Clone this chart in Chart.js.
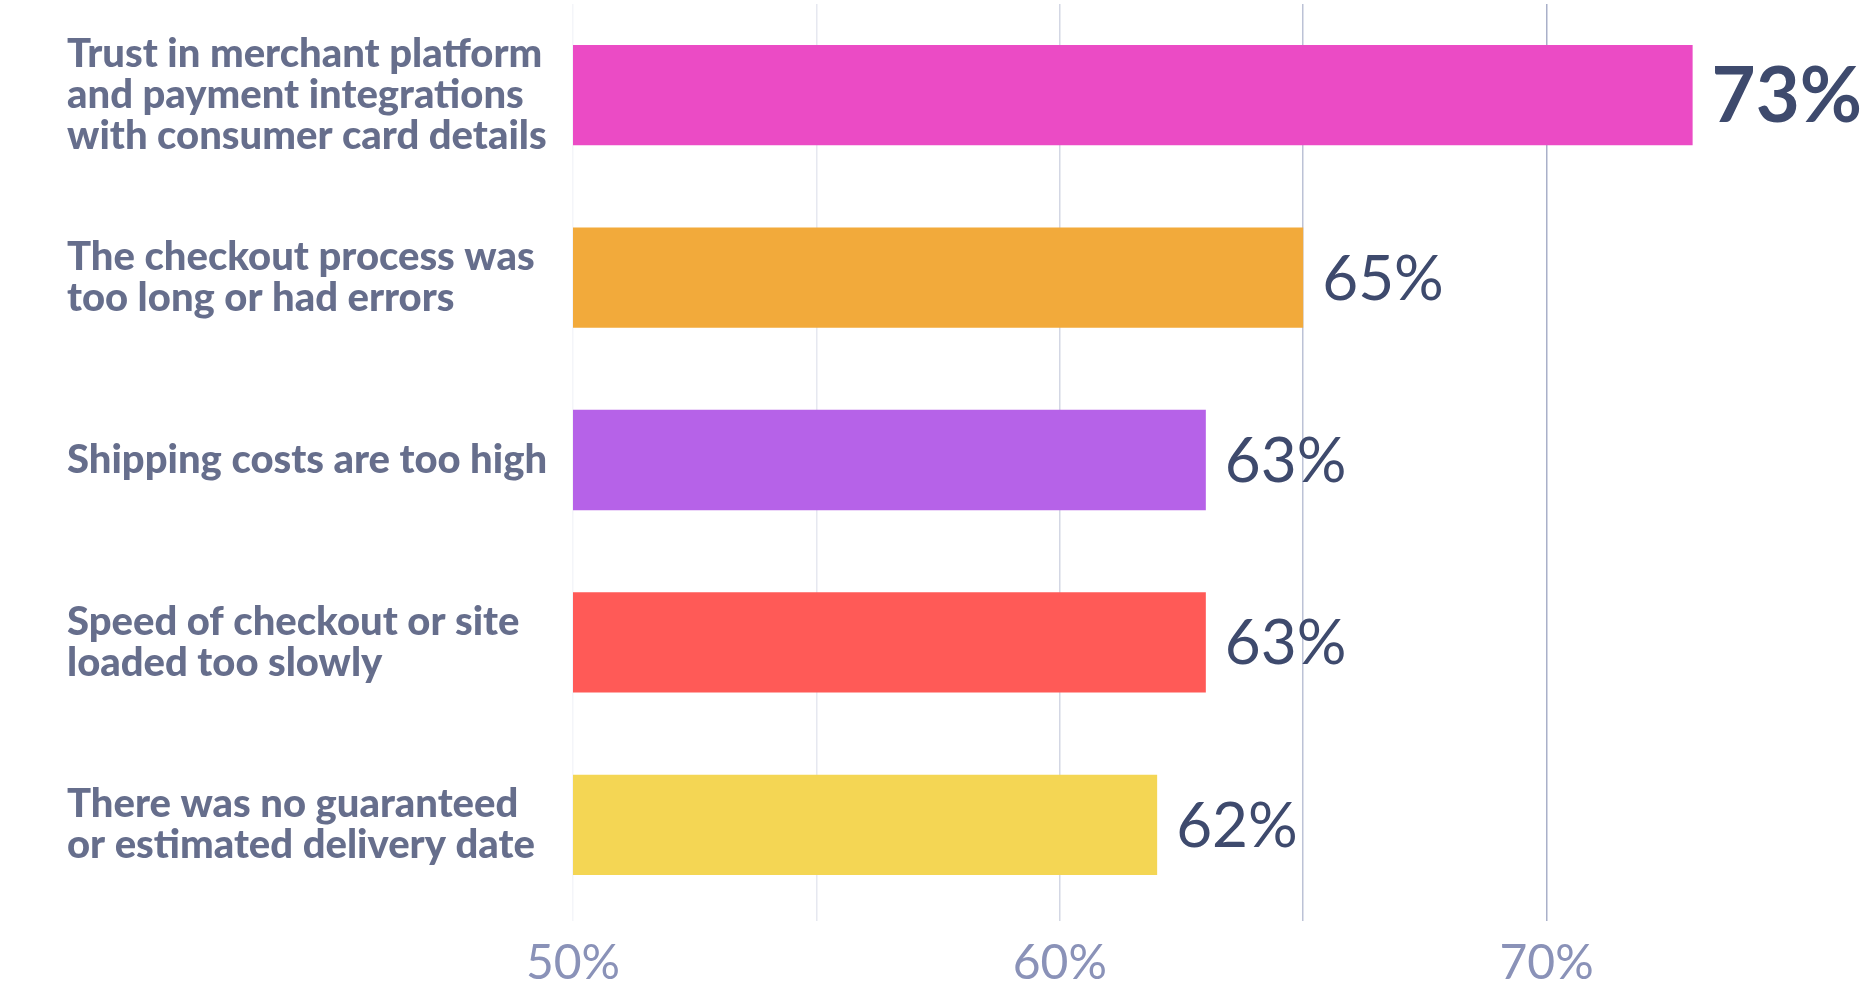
<!DOCTYPE html>
<html>
<head>
<meta charset="utf-8">
<script src="https://cdn.jsdelivr.net/npm/chart.js@4"></script>
<style>
  html, body { margin: 0; padding: 0; background: #fff; }
  #wrap { width: 1863px; height: 993px; position: relative; }
</style>
</head>
<body>
<div id="wrap"><canvas id="reasons_chart"></canvas></div>
<script>
const categories = [
    ['Trust in merchant platform', 'and payment integrations', 'with consumer card details'],
    ['The checkout process was', 'too long or had errors'],
    ['Shipping costs are too high'],
    ['Speed of checkout or site', 'loaded too slowly'],
    ['There was no guaranteed', 'or estimated delivery date']
];
const values = [73, 65, 63, 63, 62];
const barColors = ['#eb4bc5', '#f2aa3b', '#b662e8', '#ff5a57', '#f4d654'];
const tickLabels = [50, 60, 70];

const gridColors = {50: '#f4f5f9', 55: '#e6e8f0', 60: '#d3d7e4', 65: '#bcc2d6', 70: '#a9b0c9'};

// draw the percentage next to each bar
const valueLabels = {
    id: 'valueLabels',
    afterDatasetsDraw(chart) {
        const ctx = chart.ctx;
        const meta = chart.getDatasetMeta(0);
        ctx.save();
        ctx.fillStyle = '#3e4a6d';
        ctx.textBaseline = 'middle';
        ctx.textAlign = 'left';
        meta.data.forEach((bar, i) => {
            if (i === 0) {
                ctx.font = 'bold 76px Lato';
            } else {
                ctx.font = '62px Lato';
            }
            ctx.fillText(values[i] + '%', bar.x + 19, bar.y + 2);
        });
        ctx.restore();
    }
};

const ctx = document.getElementById('reasons_chart').getContext('2d');
const reasonsChart = new Chart(ctx, {
    type: 'bar',
    data: {
        labels: categories,
        datasets: [{
            data: values,
            backgroundColor: barColors,
            borderWidth: 0,
            barPercentage: 0.55,
            categoryPercentage: 1
        }]
    },
    options: {
        indexAxis: 'y',
        responsive: true,
        maintainAspectRatio: false,
        animation: false,
        layout: {
            padding: {left: 67, right: 0, top: 4, bottom: 0}
        },
        plugins: {
            legend: {display: false},
            tooltip: {enabled: false}
        },
        scales: {
            x: {
                min: 50,
                max: 76.5,
                border: {display: false},
                grid: {
                    tickLength: 5,
                    lineWidth: 1.5,
                    color: (c) => gridColors[c.tick && c.tick.value] || 'rgba(0,0,0,0)'
                },
                ticks: {
                    stepSize: 5,
                    padding: 14,
                    color: '#8a92b8',
                    font: {family: 'Lato', size: 48},
                    callback: (v) => tickLabels.includes(v) ? v + '%' : ''
                },
                afterFit: (axis) => {
                    axis.height = 77;
                    axis.paddingLeft = 0;
                    axis.paddingRight = 0;
                }
            },
            y: {
                border: {display: false},
                grid: {display: false},
                ticks: {
                    crossAlign: 'far',
                    color: '#666e8c',
                    font: {family: 'Lato', size: 40, weight: 900, lineHeight: 1.03}
                },
                afterFit: (axis) => {
                    axis.width = 506;
                    axis.paddingTop = 0;
                    axis.paddingBottom = 0;
                }
            }
        }
    },
    plugins: [valueLabels]
});
</script>
</body>
</html>
